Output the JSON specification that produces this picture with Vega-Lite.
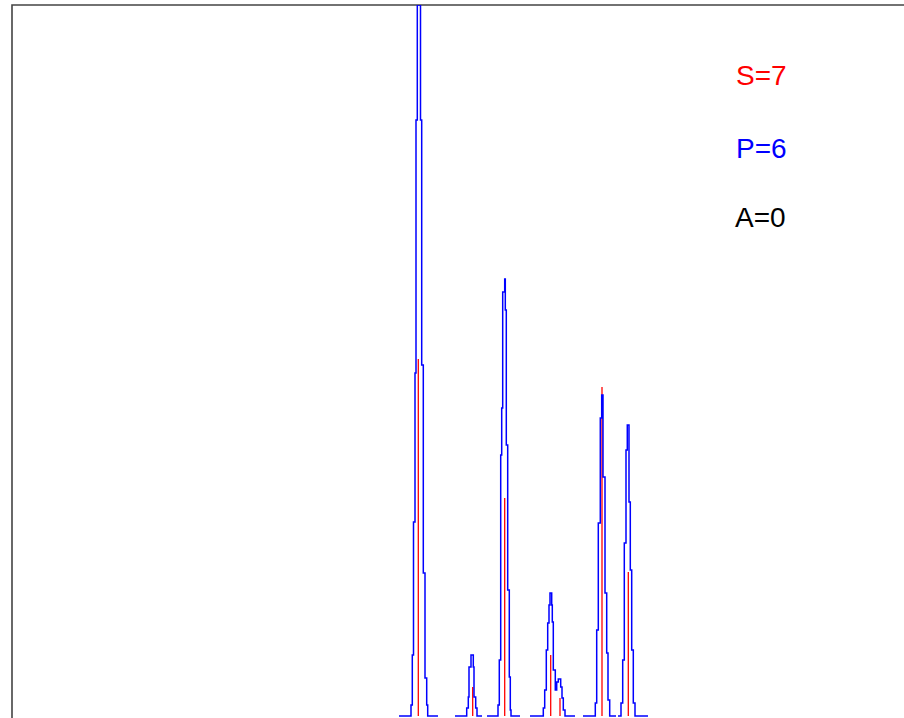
{
  "$schema": "https://vega.github.io/schema/vega-lite/v6.json",
  "autosize": "none",
  "padding": {"left": 12, "top": 5, "right": 0, "bottom": 0},
  "width": 900,
  "height": 716,
  "background": "white",
  "config": {"view": {"stroke": "#444444", "strokeWidth": 1.6}},
  "datasets": {
    "profile": [
      {"peak": 1, "x": 399, "v": 0}, {"peak": 1, "x": 411, "v": 0}, {"peak": 1, "x": 412.3, "v": 11}, {"peak": 1, "x": 413.5, "v": 61}, {"peak": 1, "x": 415, "v": 194}, {"peak": 1, "x": 416, "v": 343}, {"peak": 1, "x": 417.3, "v": 596}, {"peak": 1, "x": 420.5, "v": 711}, {"peak": 1, "x": 421.7, "v": 596}, {"peak": 1, "x": 423.3, "v": 351}, {"peak": 1, "x": 425, "v": 143}, {"peak": 1, "x": 426.7, "v": 38}, {"peak": 1, "x": 427.7, "v": 11}, {"peak": 1, "x": 438, "v": 0},
      {"peak": 2, "x": 455, "v": 0}, {"peak": 2, "x": 466.7, "v": 0}, {"peak": 2, "x": 468.3, "v": 8}, {"peak": 2, "x": 469, "v": 19}, {"peak": 2, "x": 471, "v": 49}, {"peak": 2, "x": 473.3, "v": 61}, {"peak": 2, "x": 474, "v": 49}, {"peak": 2, "x": 475.7, "v": 19}, {"peak": 2, "x": 477, "v": 8}, {"peak": 2, "x": 482, "v": 0},
      {"peak": 3, "x": 487, "v": 0}, {"peak": 3, "x": 498, "v": 0}, {"peak": 3, "x": 499.3, "v": 11}, {"peak": 3, "x": 500.7, "v": 56}, {"peak": 3, "x": 501.7, "v": 261}, {"peak": 3, "x": 502.7, "v": 308}, {"peak": 3, "x": 504.7, "v": 424}, {"peak": 3, "x": 505.3, "v": 437}, {"peak": 3, "x": 506.3, "v": 406}, {"peak": 3, "x": 507.7, "v": 271}, {"peak": 3, "x": 509.3, "v": 126}, {"peak": 3, "x": 510.3, "v": 39}, {"peak": 3, "x": 511, "v": 6}, {"peak": 3, "x": 520, "v": 0},
      {"peak": 4, "x": 530, "v": 0}, {"peak": 4, "x": 543.3, "v": 0}, {"peak": 4, "x": 544.7, "v": 8}, {"peak": 4, "x": 546.3, "v": 26}, {"peak": 4, "x": 547.7, "v": 66}, {"peak": 4, "x": 549, "v": 93}, {"peak": 4, "x": 550, "v": 111}, {"peak": 4, "x": 551.7, "v": 123}, {"peak": 4, "x": 552.3, "v": 111}, {"peak": 4, "x": 553.3, "v": 94}, {"peak": 4, "x": 555.3, "v": 46}, {"peak": 4, "x": 556.7, "v": 26}, {"peak": 4, "x": 558.3, "v": 34}, {"peak": 4, "x": 560.7, "v": 37}, {"peak": 4, "x": 562, "v": 29}, {"peak": 4, "x": 563.3, "v": 18}, {"peak": 4, "x": 565, "v": 6}, {"peak": 4, "x": 575, "v": 0},
      {"peak": 5, "x": 583, "v": 0}, {"peak": 5, "x": 595.3, "v": 0}, {"peak": 5, "x": 596.7, "v": 13}, {"peak": 5, "x": 598.3, "v": 86}, {"peak": 5, "x": 600.3, "v": 193}, {"peak": 5, "x": 601.7, "v": 298}, {"peak": 5, "x": 603, "v": 321}, {"peak": 5, "x": 605, "v": 239}, {"peak": 5, "x": 606.7, "v": 123}, {"peak": 5, "x": 608, "v": 63}, {"peak": 5, "x": 609.7, "v": 16}, {"peak": 5, "x": 616, "v": 0},
      {"peak": 6, "x": 618, "v": 0}, {"peak": 6, "x": 621, "v": 0}, {"peak": 6, "x": 622.7, "v": 13}, {"peak": 6, "x": 624.3, "v": 56}, {"peak": 6, "x": 626, "v": 173}, {"peak": 6, "x": 627.3, "v": 266}, {"peak": 6, "x": 629, "v": 291}, {"peak": 6, "x": 630.3, "v": 214}, {"peak": 6, "x": 631.7, "v": 146}, {"peak": 6, "x": 633.3, "v": 66}, {"peak": 6, "x": 635, "v": 13}, {"peak": 6, "x": 648, "v": 0}
    ],
    "sticks": [
      {"x": 418.3, "v": 357},
      {"x": 472.7, "v": 29},
      {"x": 504.7, "v": 218},
      {"x": 550.7, "v": 61},
      {"x": 560, "v": 18},
      {"x": 602, "v": 329},
      {"x": 628.3, "v": 144}
    ],
    "labels": [
      {"label": "S=7", "kind": "S", "x": 736, "v": 631},
      {"label": "P=6", "kind": "P", "x": 736, "v": 558},
      {"label": "A=0", "kind": "A", "x": 735, "v": 489}
    ]
  },
  "layer": [
    {
      "data": {"name": "sticks"},
      "mark": {"type": "rule", "color": "#ff0000", "strokeWidth": 1.3},
      "encoding": {
        "x": {"field": "x", "type": "quantitative", "scale": {"domain": [12, 912], "nice": false, "zero": false}, "axis": null},
        "y": {"field": "v", "type": "quantitative", "scale": {"domain": [-5, 711], "nice": false, "zero": false}, "axis": null},
        "y2": {"datum": 0}
      }
    },
    {
      "data": {"name": "profile"},
      "mark": {"type": "line", "color": "#0000ff", "strokeWidth": 1.5, "interpolate": "step-before", "clip": true},
      "encoding": {
        "x": {"field": "x", "type": "quantitative", "scale": {"domain": [12, 912], "nice": false, "zero": false}, "axis": null},
        "y": {"field": "v", "type": "quantitative", "scale": {"domain": [-5, 711], "nice": false, "zero": false}, "axis": null},
        "detail": {"field": "peak", "type": "nominal"}
      }
    },
    {
      "data": {"name": "labels"},
      "mark": {"type": "text", "align": "left", "baseline": "alphabetic", "font": "Liberation Sans", "fontSize": 28},
      "encoding": {
        "x": {"field": "x", "type": "quantitative", "scale": {"domain": [12, 912], "nice": false, "zero": false}, "axis": null},
        "y": {"field": "v", "type": "quantitative", "scale": {"domain": [-5, 711], "nice": false, "zero": false}, "axis": null},
        "text": {"field": "label", "type": "nominal"},
        "color": {"field": "kind", "type": "nominal", "scale": {"domain": ["S", "P", "A"], "range": ["#ff0000", "#0000ff", "#000000"]}, "legend": null}
      }
    }
  ]
}
